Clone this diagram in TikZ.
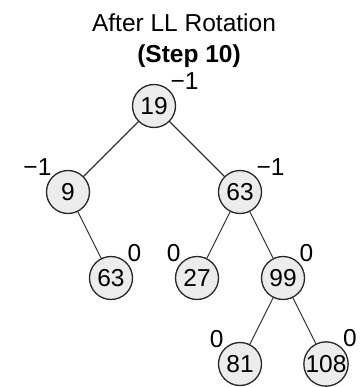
\documentclass[tikz,border=0pt]{standalone}
\usepackage{fontspec}
\setmainfont{Liberation Sans}
\usetikzlibrary{positioning}
\begin{document}
\begin{tikzpicture}[node distance=86pt and 86pt, on grid,
    every node/.style={font=\fontsize{24.5}{28}\selectfont},
    every label/.append style={inner sep=0pt}, label distance=1pt,
    avl/.style={circle, draw=black!85, line width=1.3pt, fill=gray!15, minimum size=43pt, inner sep=0pt},
    edge/.style={draw=black!80, line width=1.1pt}]
    \useasboundingbox (0,0) rectangle (359pt,-387pt);
    \node[anchor=base] (title) at (184pt,-32pt) {After LL Rotation};
    \node[anchor=base, font=\fontsize{24.5}{28}\selectfont\bfseries] (step) at (189pt,-63pt) {(Step 10)};
    \node[avl, label=45:−1] (n19) at (154pt,-106pt) {19};
    \node[avl, label=135:−1] (n9) [below left=of n19] {9};
    \node[avl, label=45:−1] (n63) [below right=of n19] {63};
    \node[avl, label=45:0] (n63b) [below right=86pt and 43pt of n9] {63};
    \node[avl, label=135:0] (n27) [below left=86pt and 43pt of n63] {27};
    \node[avl, label=45:0] (n99) [below right=86pt and 43pt of n63] {99};
    \node[avl, label=135:0] (n81) [below left=86pt and 43pt of n99] {81};
    \node[avl, label=45:0] (n108) [below right=86pt and 43pt of n99] {108};
    \draw[edge] (n19) -- (n9);
    \draw[edge] (n19) -- (n63);
    \draw[edge] (n9) -- (n63b);
    \draw[edge] (n63) -- (n27);
    \draw[edge] (n63) -- (n99);
    \draw[edge] (n99) -- (n81);
    \draw[edge] (n99) -- (n108);
  \end{tikzpicture}
\end{document}
